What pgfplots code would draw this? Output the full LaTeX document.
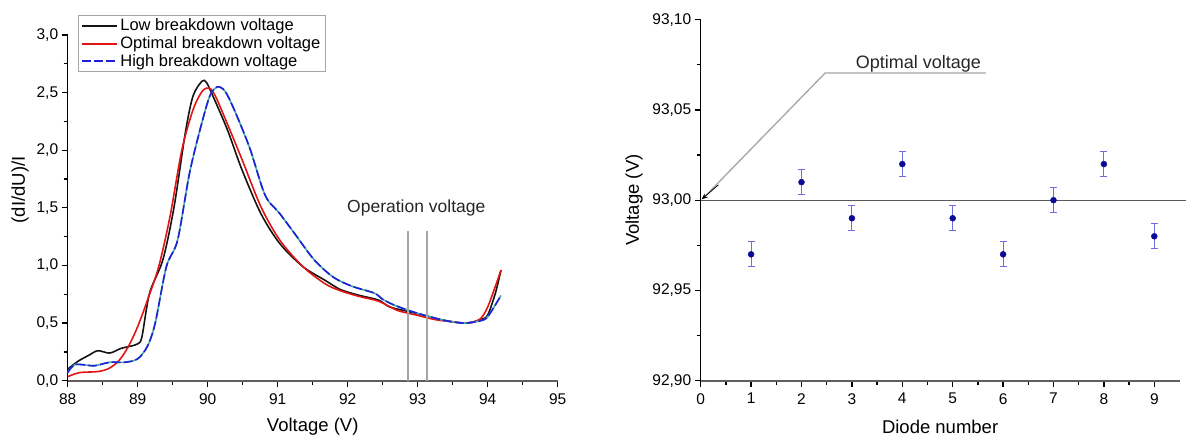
\documentclass[border=0pt]{standalone}
\usepackage{fontspec}
\setmainfont{Liberation Sans}
\usepackage{pgfplots}
\pgfplotsset{compat=1.18}
\usetikzlibrary{arrows.meta}
\definecolor{lowc}{RGB}{20,20,20}
\definecolor{optc}{RGB}{228,20,20}
\definecolor{highc}{RGB}{30,30,220}
\definecolor{tealc}{RGB}{70,175,160}
\definecolor{markc}{RGB}{10,10,150}
\definecolor{errc}{RGB}{110,110,225}
\definecolor{guide}{RGB}{165,165,165}

\begin{document}
\begin{tikzpicture}
\useasboundingbox (0,0) rectangle (1186pt,439pt);
\pgfplotsset{
  common/.style={
    scale only axis,
    axis lines=left,
    axis line style={-},
    x axis line style={gray!75!black, line width=1.8pt},
    y axis line style={black, line width=1.2pt},
    xtick pos=bottom, ytick pos=left,
    tick align=outside,
    major tick length=6pt,
    minor tick length=4pt,
    every tick/.style={black, line width=1.3pt},
    ticklabel style={font=\fontsize{15.5}{18}\selectfont},
    xticklabel style={yshift=-3pt},
    label style={font=\fontsize{18.5}{22}\selectfont},
    /pgf/number format/assume math mode=true,
    clip=false,
  }
}

% left: normalised derivative of the IV curve
\begin{axis}[common,
    at={(67.7pt,58.3pt)}, anchor=south west,
    width=490pt, height=345.7pt,
    xmin=88, xmax=95, ymin=0, ymax=3,
    xtick={88,...,95}, minor x tick num=1,
    ytick={0,0.5,1,1.5,2,2.5,3}, minor y tick num=1,
    y tick label style={/pgf/number format/.cd, fixed, fixed zerofill, precision=1, use comma},
    xlabel={Voltage (V)},
    ylabel={(dI/dU)/I},
    xlabel style={at={(axis description cs:0.5,-0.134)}, anchor=center},
    ylabel style={at={(axis description cs:-0.097,0.552)}, anchor=center, rotate=0},
    legend style={at={(axis description cs:0.021,1.058)}, anchor=north west,
      draw=gray!70, line width=0.8pt, font=\fontsize{16.5}{17}\selectfont,
      inner xsep=3pt, inner ysep=1.5pt, row sep=0.5pt},
    legend cell align=left,
    legend image code/.code={\draw[#1, line width=2pt] (0pt,0pt) -- (35pt,0pt);},
  ]
  \addplot[lowc, line width=1.6pt, smooth] coordinates {
    (88.00,0.10) (88.15,0.17) (88.30,0.22) (88.43,0.26) (88.60,0.24)
    (88.76,0.28) (88.90,0.30) (89.00,0.32) (89.06,0.38) (89.17,0.76)
    (89.36,1.05) (89.52,1.51) (89.68,2.15) (89.79,2.47) (89.92,2.60)
    (89.98,2.59) (90.06,2.49) (90.28,2.18) (90.49,1.83) (90.76,1.45)
    (91.03,1.19) (91.36,0.99) (91.68,0.87) (91.90,0.79) (92.17,0.74)
    (92.44,0.70) (92.60,0.64) (92.87,0.60) (93.14,0.56) (93.41,0.52)
    (93.68,0.50) (93.90,0.53) (94.00,0.57) (94.11,0.76) (94.19,0.96)
  };
  \addplot[optc, line width=1.6pt, smooth] coordinates {
    (88.00,0.035) (88.17,0.07) (88.44,0.08) (88.60,0.11) (88.74,0.18)
    (88.87,0.30) (89.00,0.47) (89.14,0.70) (89.30,0.99) (89.46,1.42)
    (89.63,2.00) (89.79,2.35) (89.92,2.51) (90.02,2.54) (90.11,2.47)
    (90.28,2.23) (90.49,1.92) (90.76,1.51) (91.03,1.22) (91.36,0.99)
    (91.68,0.84) (91.90,0.78) (92.17,0.73) (92.44,0.69) (92.71,0.61)
    (92.98,0.57) (93.25,0.53) (93.52,0.51) (93.74,0.50) (93.90,0.54)
    (94.00,0.64) (94.11,0.82) (94.19,0.96)
  };
  \addplot[tealc, line width=1.6pt, smooth, forget plot] coordinates {
    (88.00,0.07) (88.11,0.14) (88.38,0.13) (88.60,0.16) (88.82,0.16)
    (89.00,0.19) (89.14,0.30) (89.25,0.50) (89.41,0.99) (89.57,1.22)
    (89.74,1.80) (89.90,2.20) (90.03,2.47) (90.14,2.55) (90.25,2.51)
    (90.38,2.35) (90.60,2.02) (90.82,1.61) (91.03,1.45) (91.25,1.27)
    (91.52,1.05) (91.79,0.90) (92.06,0.82) (92.38,0.76) (92.49,0.71)
    (92.65,0.66) (92.87,0.61) (93.14,0.56) (93.41,0.52) (93.68,0.50)
    (93.95,0.53) (94.05,0.60) (94.19,0.74)
  };
  \addplot[highc, line width=1.6pt, smooth, dash pattern=on 9pt off 3pt,
    legend image code/.code={
      \draw[tealc, line width=2pt] (0pt,0pt) -- (35pt,0pt);
      \draw[highc, line width=2pt, dash pattern=on 9pt off 3pt] (0pt,0pt) -- (35pt,0pt);}]
    coordinates {
    (88.00,0.07) (88.11,0.14) (88.38,0.13) (88.60,0.16) (88.82,0.16)
    (89.00,0.19) (89.14,0.30) (89.25,0.50) (89.41,0.99) (89.57,1.22)
    (89.74,1.80) (89.90,2.20) (90.03,2.47) (90.14,2.55) (90.25,2.51)
    (90.38,2.35) (90.60,2.02) (90.82,1.61) (91.03,1.45) (91.25,1.27)
    (91.52,1.05) (91.79,0.90) (92.06,0.82) (92.38,0.76) (92.49,0.71)
    (92.65,0.66) (92.87,0.61) (93.14,0.56) (93.41,0.52) (93.68,0.50)
    (93.95,0.53) (94.05,0.60) (94.19,0.74)
  };
  \legend{Low breakdown voltage, Optimal breakdown voltage, High breakdown voltage}
  % operation voltage window
  \addplot[guide, line width=1.6pt, forget plot] coordinates {(92.86,0) (92.86,1.30)};
  \addplot[guide, line width=1.6pt, forget plot] coordinates {(93.13,0) (93.13,1.30)};
  \node[anchor=base, font=\fontsize{17.5}{20}\selectfont, text=black!85]
    at (axis cs:92.98,1.456) {Operation voltage};
\end{axis}

% right: breakdown voltage of each diode
\begin{axis}[common,
    at={(700.7pt,58.3pt)}, anchor=south west,
    width=478.8pt, height=361pt,
    xmin=0, xmax=9.5, ymin=92.90, ymax=93.10,
    xtick={0,...,9}, minor x tick num=1,
    ytick={92.90,92.95,93.00,93.05,93.10}, minor y tick num=1,
    y tick label style={/pgf/number format/.cd, fixed, fixed zerofill, precision=2, use comma},
    xlabel={Diode number},
    ylabel={Voltage (V)},
    xlabel style={at={(axis description cs:0.5,-0.128)}, anchor=center},
    ylabel style={at={(axis description cs:-0.139,0.50)}, anchor=center},
  ]
  \addplot[gray!70!black, line width=1.3pt] coordinates {(0,93.00) (9.63,93.00)};
  \addplot[only marks, mark=*, mark size=3pt, mark options={markc, fill=markc},
    error bars/.cd, y dir=both, y explicit,
    error bar style={errc, line width=1pt},
    error mark options={rotate=90, mark size=3.5pt, errc, line width=1pt}]
    coordinates {
    (1,92.97) +- (0,0.007)
    (2,93.01) +- (0,0.007)
    (3,92.99) +- (0,0.007)
    (4,93.02) +- (0,0.007)
    (5,92.99) +- (0,0.007)
    (6,92.97) +- (0,0.007)
    (7,93.00) +- (0,0.007)
    (8,93.02) +- (0,0.007)
    (9,92.98) +- (0,0.007)
  };
  % annotation for the optimal voltage
  \addplot[guide, line width=1.3pt] coordinates {(5.66,93.0705) (2.47,93.0705) (0.08,93.002)};
  \draw[-{Stealth[length=6pt,width=5pt]}, black, line width=0.8pt]
    (axis cs:0.35,93.0085) -- (axis cs:0.02,93.0005);
  \node[anchor=base, font=\fontsize{18}{21}\selectfont, text=black!85]
    at (axis cs:4.32,93.0732) {Optimal voltage};
\end{axis}
\end{tikzpicture}
\end{document}
